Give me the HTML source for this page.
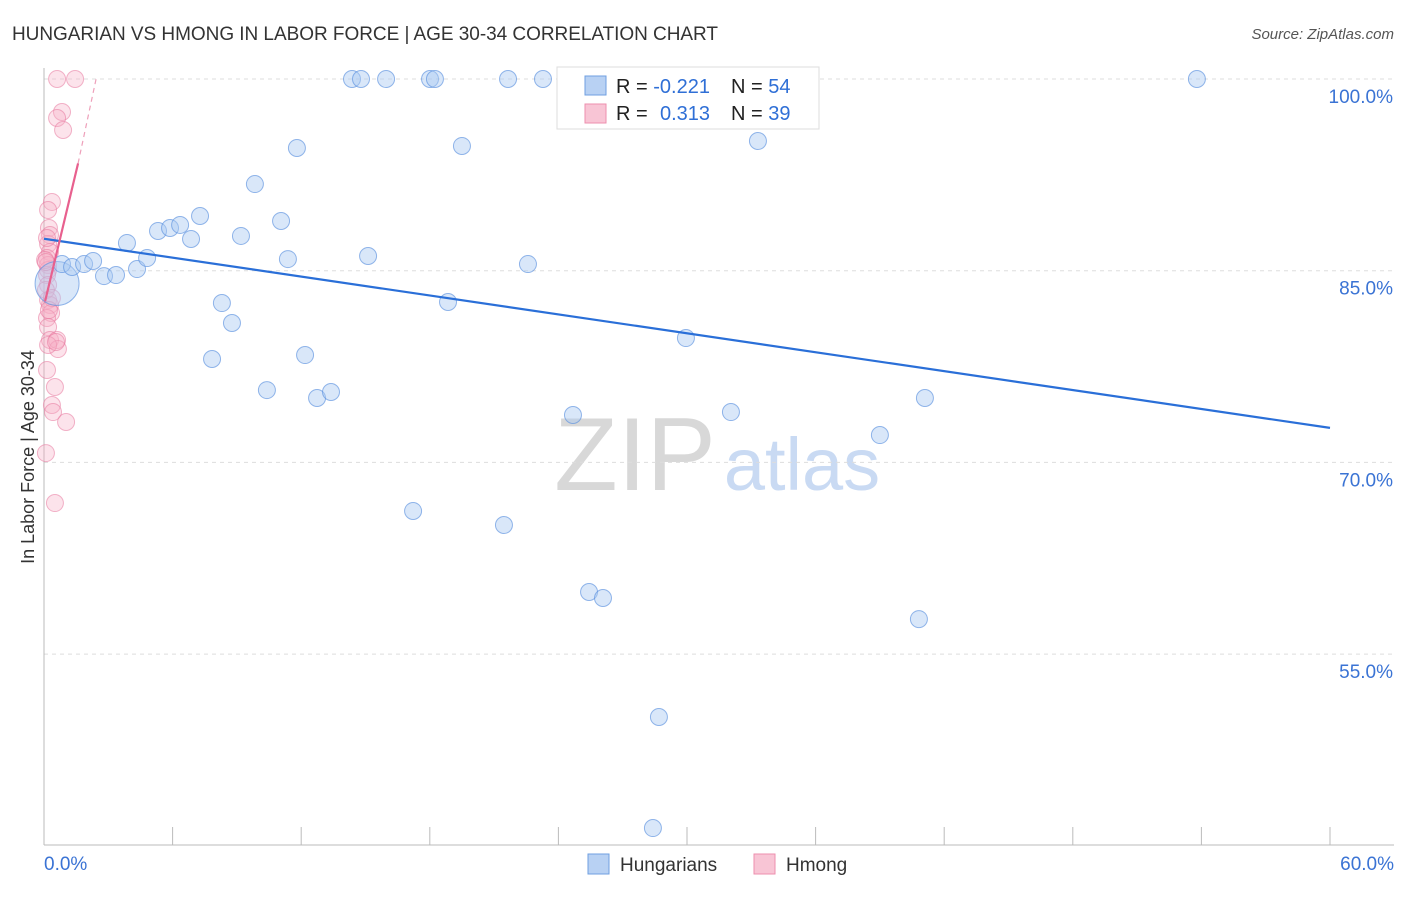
<!DOCTYPE html>
<html><head><meta charset="utf-8"><style>
body{margin:0;background:#fff;font-family:"Liberation Sans",sans-serif;}
svg text{font-family:"Liberation Sans",sans-serif;}
</style></head><body>
<svg id="chart" width="1406" height="892">
<text x="12" y="40" font-size="19" fill="#333" textLength="706">HUNGARIAN VS HMONG IN LABOR FORCE | AGE 30-34 CORRELATION CHART</text>
<text x="1394" y="39" font-size="15" fill="#555" text-anchor="end" font-style="italic">Source: ZipAtlas.com</text>
<g>
<text x="635" y="490" font-size="104" fill="#d8d8d8" text-anchor="middle" font-family="Liberation Serif,serif">ZIP</text>
<text x="802" y="490" font-size="74" fill="#c9daf3" text-anchor="middle">atlas</text>
</g>
<g id="grid"></g>
<g id="axes"></g>
<g id="marks"></g>
<text transform="translate(34,457) rotate(-90)" font-size="18" fill="#333" text-anchor="middle">In Labor Force | Age 30-34</text>
<g>
<rect x="557" y="67" width="262" height="62" fill="#fff" stroke="#ddd"/>
<rect x="585" y="76" width="21" height="19" fill="#b8d1f3" stroke="#6f9fe0"/>
<rect x="585" y="104" width="21" height="19" fill="#f8c5d5" stroke="#ee8fae"/>
<text x="616" y="93" font-size="20" fill="#222">R = <tspan fill="#2f6fd6">-0.221</tspan></text>
<text x="731" y="93" font-size="20" fill="#222">N = <tspan fill="#2f6fd6">54</tspan></text>
<text x="616" y="120" font-size="20" fill="#222">R = <tspan fill="#2f6fd6" x="660">0.313</tspan></text>
<text x="731" y="120" font-size="20" fill="#222">N = <tspan fill="#2f6fd6">39</tspan></text>
</g>
<g id="over"></g>
<g>
<rect x="588" y="854" width="21" height="20" fill="#b8d1f3" stroke="#6f9fe0"/>
<text x="620" y="871" font-size="19" fill="#333">Hungarians</text>
<rect x="754" y="854" width="21" height="20" fill="#f8c5d5" stroke="#ee8fae"/>
<text x="786" y="871" font-size="19" fill="#333">Hmong</text>
</g>
</svg>
<script>
const yTicks=[100,85,70,55];
const yTickLabels=["100.0%","85.0%","70.0%","55.0%"];
const xTicks=[0,6,12,18,24,30,36,42,48,54,60];
const hungX=[0.61,0.84,1.31,1.87,2.29,2.80,3.36,3.87,4.34,4.81,5.32,5.88,6.35,6.86,7.28,7.84,8.30,8.77,9.19,9.84,10.40,11.06,11.38,11.80,12.18,12.74,13.39,14.37,14.79,15.96,18.01,18.24,18.85,19.50,21.65,22.58,23.28,24.68,25.43,26.08,26.69,28.41,28.69,29.95,30.23,32.05,33.31,39.00,40.82,41.10,53.79,17.22,21.46,15.12];
const hungY=[84.0,85.52,85.29,85.52,85.76,84.58,84.66,87.17,85.13,85.99,88.11,88.34,88.58,87.48,89.28,78.09,82.47,80.91,87.72,91.78,75.66,88.89,85.91,94.60,78.40,75.04,75.51,100,100,100,100,100,82.55,94.76,100,85.52,100,73.71,59.86,59.39,100,41.39,50.08,79.73,100,73.94,95.15,72.14,57.74,75.04,100,66.20,65.10,86.15];
const hmongX=[0.61,1.45,0.84,0.61,0.89,0.37,0.19,0.23,0.28,0.19,0.28,0.14,0.19,0.19,0.14,0.19,0.19,0.28,0.33,0.14,0.19,0.28,0.61,0.65,0.19,0.14,0.51,0.37,0.42,1.03,0.09,0.51,0.05,0.09,0.09,0.37,0.56,0.23,0.14];
const hmongY=[100,100,97.42,96.95,96.01,90.38,89.75,88.34,87.79,87.09,86.46,85.99,85.45,85.05,84.66,83.88,82.71,82.32,81.69,81.30,80.59,79.58,79.58,78.87,79.19,77.23,75.90,74.49,73.94,73.16,70.73,66.82,85.84,85.68,83.49,82.86,79.42,81.92,87.56];
const hungTrend=[[0,87.5],[60,72.7]];
const hmongTrend=[[0.05,82.6],[1.59,93.4]];
const hmongTrendExt=[[1.59,93.4],[2.43,100]];

const X=v=>44+v/60*1286;
const Y=v=>79+(100-v)*12.78;
const NS="http://www.w3.org/2000/svg";
function mk(parent,tag,attrs){const e=document.createElementNS(NS,tag);for(const k in attrs)e.setAttribute(k,attrs[k]);document.getElementById(parent).appendChild(e);return e;}

yTicks.forEach((t,i)=>{
 const l=mk('grid','line',{x1:44,x2:1394,y1:Y(t),y2:Y(t),stroke:'#ddd','stroke-dasharray':'4,4'});
 
 
 const tx=mk('grid','text',{x:1393,y:Y(t)+24,'font-size':19,fill:'#3a73d4','text-anchor':'end'});
 tx.textContent=yTickLabels[i];
 
 
});
const ax=mk('axes','line',{x1:44,x2:44,y1:68,y2:845,stroke:'#bbb'});


const bx=mk('axes','line',{x1:44,x2:1394,y1:845,y2:845,stroke:'#bbb'});


xTicks.forEach(t=>{
 const l=mk('axes','line',{x1:X(t),x2:X(t),y1:827,y2:845,stroke:'#bbb'});
 
 
});
const xl0=mk('axes','text',{x:44,y:870,'font-size':19,fill:'#3a73d4'});xl0.textContent=xTicks[0].toFixed(1)+'%';


const xl1=mk('axes','text',{x:1394,y:870,'font-size':19,fill:'#3a73d4','text-anchor':'end'});xl1.textContent=xTicks[xTicks.length-1].toFixed(1)+'%';



hmongX.forEach((x,i)=>{
 const c=mk('marks','circle',{cx:X(x),cy:Y(hmongY[i]),r:8.5,fill:'rgba(246,175,199,0.35)',stroke:'rgba(232,120,158,0.55)'});
 
 
});
hungX.forEach((x,i)=>{
 const c=mk('marks','circle',{cx:X(x),cy:Y(hungY[i]),r:i===0?22:8.5,fill:'rgba(170,202,242,0.45)',stroke:'rgba(90,145,222,0.65)'});
 
 
});
const tl=mk('marks','line',{x1:X(hungTrend[0][0]),y1:Y(hungTrend[0][1]),x2:X(hungTrend[1][0]),y2:Y(hungTrend[1][1]),stroke:'#2a6fd8','stroke-width':2.2});


const pl=mk('marks','line',{x1:X(hmongTrend[0][0]),y1:Y(hmongTrend[0][1]),x2:X(hmongTrend[1][0]),y2:Y(hmongTrend[1][1]),stroke:'#e8608e','stroke-width':2.2});


const pe=mk('marks','line',{x1:X(hmongTrendExt[0][0]),y1:Y(hmongTrendExt[0][1]),x2:X(hmongTrendExt[1][0]),y2:Y(hmongTrendExt[1][1]),stroke:'#eea0ba','stroke-width':1.2,'stroke-dasharray':'5,4'});


</script>
</body></html>
